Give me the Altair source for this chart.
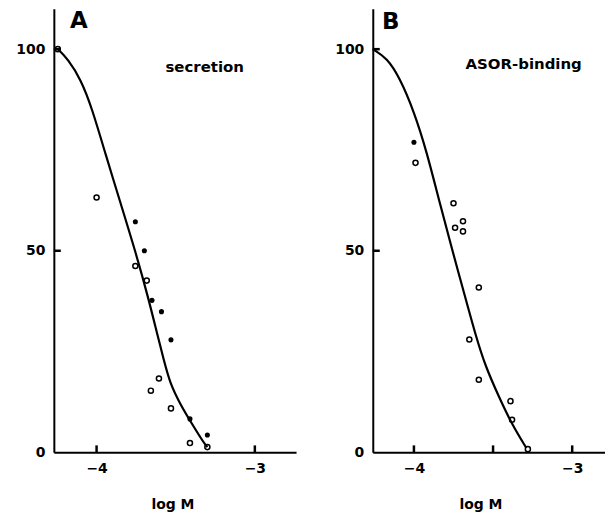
import altair as alt
import pandas as pd

# ---------------- data ----------------
# Panel A: secretion
curve_a_x = [-4.245, -4.18, -4.10, -4.03, -3.94, -3.85, -3.755, -3.671, -3.618, -3.576, -3.535, -3.472, -3.398, -3.325, -3.30]
curve_a_y = [100, 97.5, 92.5, 85.5, 73.5, 62.0, 49.9, 38.0, 29.5, 23.0, 17.0, 12.0, 7.1, 2.5, 1.3]
open_a_x = [-4.245, -4.0, -3.755, -3.683, -3.606, -3.657, -3.53, -3.41, -3.30]
open_a_y = [100, 63.2, 46.2, 42.6, 18.3, 15.3, 10.9, 2.3, 1.3]
filled_a_x = [-3.755, -3.698, -3.65, -3.59, -3.53, -3.41, -3.30]
filled_a_y = [57.2, 50.0, 37.7, 34.9, 27.9, 8.3, 4.3]

# Panel B: ASOR-binding
curve_b_x = [-4.26, -4.17, -4.09, -4.0, -3.92, -3.84, -3.76, -3.69, -3.61, -3.55, -3.46, -3.38, -3.29]
curve_b_y = [100, 97.8, 92.9, 84.6, 74.7, 62.3, 50.5, 40.5, 29.0, 21.5, 13.5, 6.9, 1.1]
open_b_x = [-3.99, -3.75, -3.69, -3.74, -3.69, -3.59, -3.65, -3.59, -3.39, -3.38, -3.28]
open_b_y = [71.8, 61.8, 57.3, 55.7, 54.8, 40.9, 28.0, 18.0, 12.7, 8.1, 0.8]
filled_b_x = [-4.0]
filled_b_y = [76.9]

x_labels = [-4, -3]
y_labels = [0, 50, 100]
x_ticks_a = [-4, -3]
x_ticks_b = [-4, -3.5, -3]
y_ticks = [50, 100]

FONT = "DejaVu Sans"
H = 445
W_A = 243
W_B = 233
YDOM = [0, 110]
PX_PER_X = 158.8
PX_PER_Y = H / (YDOM[1] - YDOM[0])
TICK_PX = 7


def panel(cx, cy, ox, oy, fx, fy, xticks, letter, note, xmin, width, title_x, letter_pos, note_pos):
    xmax = xmin + width / PX_PER_X
    xs = alt.Scale(domain=[xmin, xmax], nice=False, zero=False)
    ys = alt.Scale(domain=YDOM, nice=False, zero=False)
    xaxis = alt.Axis(values=x_labels, format="d", ticks=False, grid=False,
                     domainColor="black", domainWidth=2,
                     labelFont=FONT, labelFontSize=14, labelFontWeight="bold",
                     labelColor="black", labelPadding=9,
                     title="log M", titleFont=FONT, titleFontSize=14,
                     titleFontWeight="bold", titleColor="black",
                     titlePadding=22, titleX=title_x)
    yaxis = alt.Axis(values=y_labels, ticks=False, grid=False,
                     domainColor="black", domainWidth=2,
                     labelFont=FONT, labelFontSize=14, labelFontWeight="bold",
                     labelColor="black", labelPadding=9, title="")

    curve = alt.Chart(pd.DataFrame({"x": cx, "y": cy})).mark_line(
        color="black", strokeWidth=2.2, interpolate="basis"
    ).encode(x=alt.X("x:Q", scale=xs, axis=xaxis), y=alt.Y("y:Q", scale=ys, axis=yaxis))

    opens = alt.Chart(pd.DataFrame({"x": ox, "y": oy})).mark_point(
        shape="circle", filled=False, color="black", size=26, strokeWidth=1.5, opacity=1
    ).encode(x=alt.X("x:Q", scale=xs, axis=xaxis), y=alt.Y("y:Q", scale=ys, axis=yaxis))

    fills = alt.Chart(pd.DataFrame({"x": fx, "y": fy})).mark_circle(
        color="black", size=26, opacity=1
    ).encode(x=alt.X("x:Q", scale=xs, axis=xaxis), y=alt.Y("y:Q", scale=ys, axis=yaxis))

    # inward tick marks (the reference draws ticks inside the plot)
    xt_df = pd.DataFrame({"x": xticks, "y": [YDOM[0]] * len(xticks),
                          "y2": [YDOM[0] + TICK_PX / PX_PER_Y] * len(xticks)})
    xt = alt.Chart(xt_df).mark_rule(color="black", strokeWidth=2.5).encode(
        x=alt.X("x:Q", scale=xs, axis=xaxis), y=alt.Y("y:Q", scale=ys, axis=yaxis), y2="y2:Q")
    yt_df = pd.DataFrame({"y": y_ticks, "x": [xmin] * len(y_ticks),
                          "x2": [xmin + TICK_PX / PX_PER_X] * len(y_ticks)})
    yt = alt.Chart(yt_df).mark_rule(color="black", strokeWidth=2.5).encode(
        y=alt.Y("y:Q", scale=ys, axis=yaxis), x=alt.X("x:Q", scale=xs, axis=xaxis), x2="x2:Q")

    lt = alt.Chart(pd.DataFrame({"t": [letter]})).mark_text(
        font=FONT, fontSize=23, fontWeight="bold", color="black", align="center", baseline="middle"
    ).encode(text="t:N", x=alt.value(letter_pos[0]), y=alt.value(letter_pos[1]))

    nt = alt.Chart(pd.DataFrame({"t": [note]})).mark_text(
        font=FONT, fontSize=15, fontWeight="bold", color="black", align="left", baseline="middle"
    ).encode(text="t:N", x=alt.value(note_pos[0]), y=alt.value(note_pos[1]))

    return alt.layer(curve, xt, yt, opens, fills, lt, nt).properties(width=width, height=H)


pa = panel(curve_a_x, curve_a_y, open_a_x, open_a_y, filled_a_x, filled_a_y, x_ticks_a,
           "A", "secretion", -4.27, W_A, 119, (25, 12), (112, 58))
pb = panel(curve_b_x, curve_b_y, open_b_x, open_b_y, filled_b_x, filled_b_y, x_ticks_b,
           "B", "ASOR-binding", -4.26, W_B, 108, (18, 13), (93, 55))

chart = alt.hconcat(pa, pb, spacing=38).properties(
    padding={"left": 7, "top": 0, "right": 0, "bottom": 0}
).configure_view(strokeWidth=0)

chart.save("out.html", embed_options={"renderer": "svg", "actions": False})
